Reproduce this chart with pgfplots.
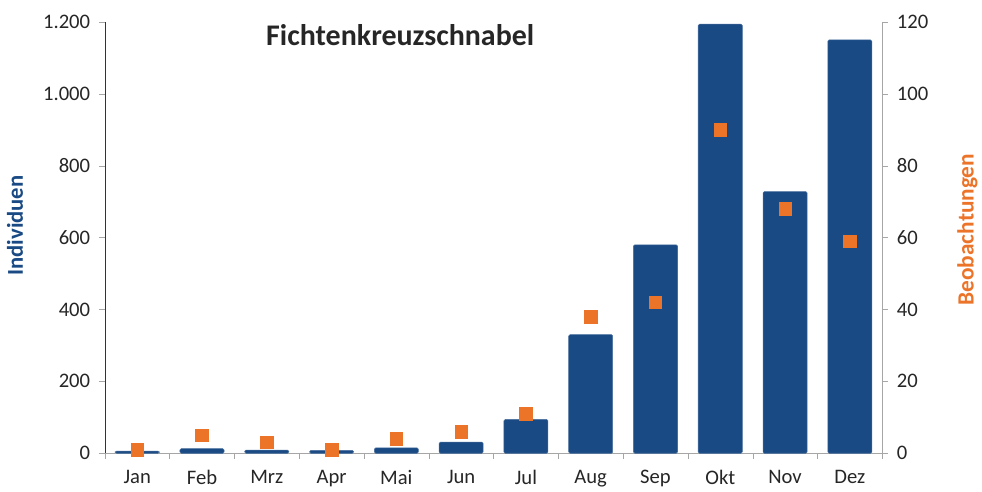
\documentclass[border=0pt]{standalone}
\usepackage{pgfplots}
\pgfplotsset{compat=1.18}
\usepackage{fontspec}
\setmainfont{Carlito}
\definecolor{barblue}{HTML}{1A4A84}
\definecolor{sqorange}{HTML}{EC7429}
\definecolor{txtgrey}{HTML}{262626}
\definecolor{axgrey}{HTML}{A6A6A6}

\begin{document}
\begin{tikzpicture}[x=1pt,y=1pt]
\pgfplotsset{
  common/.style={
    scale only axis,
    width=584pt, height=324pt,
    xmin=-0.5, xmax=11.5,
    tick label style={font=\fontsize{15.5}{18}\selectfont, text=txtgrey},
    /pgf/number format/assume math mode=true,
    /pgf/number format/.cd, fixed, 1000 sep={.}, /pgfplots/.cd,
  },
}
% bars: Individuen (left axis)
\begin{axis}[common,
    ymin=0, ymax=1200,
    ytick={0,200,...,1200},
    axis x line*=bottom,
    axis y line*=left,
    x axis line style={draw=axgrey},
    y axis line style={draw=black!80},
    xtick={0,...,11},
    xticklabels={Jan,Feb,Mrz,Apr,Mai,Jun,Jul,Aug,Sep,Okt,Nov,Dez},
    major x tick style={draw=none},
    minor xtick={-0.5,0.5,...,11.5},
    minor x tick style={draw=axgrey},
    minor tick length=4.5pt,
    xtick align=outside,
    ytick align=outside,
    major tick length=4.5pt,
    y tick style={draw=axgrey},
    xticklabel style={yshift=-5pt},
    yticklabel style={xshift=-3pt},
]
\addplot[ybar, bar width=0.68, fill=barblue, draw=barblue!80!white, rounded corners=1pt]
  coordinates {(0,6) (1,13) (2,9) (3,8) (4,15) (5,31) (6,94) (7,330) (8,580) (9,1194) (10,728) (11,1150)};
\node[font=\bfseries\fontsize{22.5}{26}\selectfont, text=txtgrey] at (rel axis cs:0.38,0.97) {Fichtenkreuzschnabel};
\end{axis}
% squares: Beobachtungen (right axis)
\begin{axis}[common,
    ymin=0, ymax=120,
    ytick={0,20,...,120},
    axis x line=none,
    axis y line*=right,
    y axis line style={draw=axgrey},
    y tick style={draw=axgrey},
    ytick align=outside,
    major tick length=4.5pt,
    yticklabel style={xshift=3pt},
]
\addplot[only marks, mark=square*, mark size=4.7pt, color=sqorange]
  coordinates {(0,1) (1,5) (2,3) (3,1) (4,4) (5,6) (6,11) (7,38) (8,42) (9,90) (10,68) (11,59)};
\end{axis}
\node[rotate=90, font=\bfseries\fontsize{17}{20}\selectfont, text=barblue] at (-67.5,171) {Individuen};
\node[rotate=90, font=\bfseries\fontsize{17.5}{20}\selectfont, text=sqorange] at (648,168) {Beobachtungen};
\path[use as bounding box] (-78.75,-25.5) rectangle (657.75,340.5);
\end{tikzpicture}
\end{document}
